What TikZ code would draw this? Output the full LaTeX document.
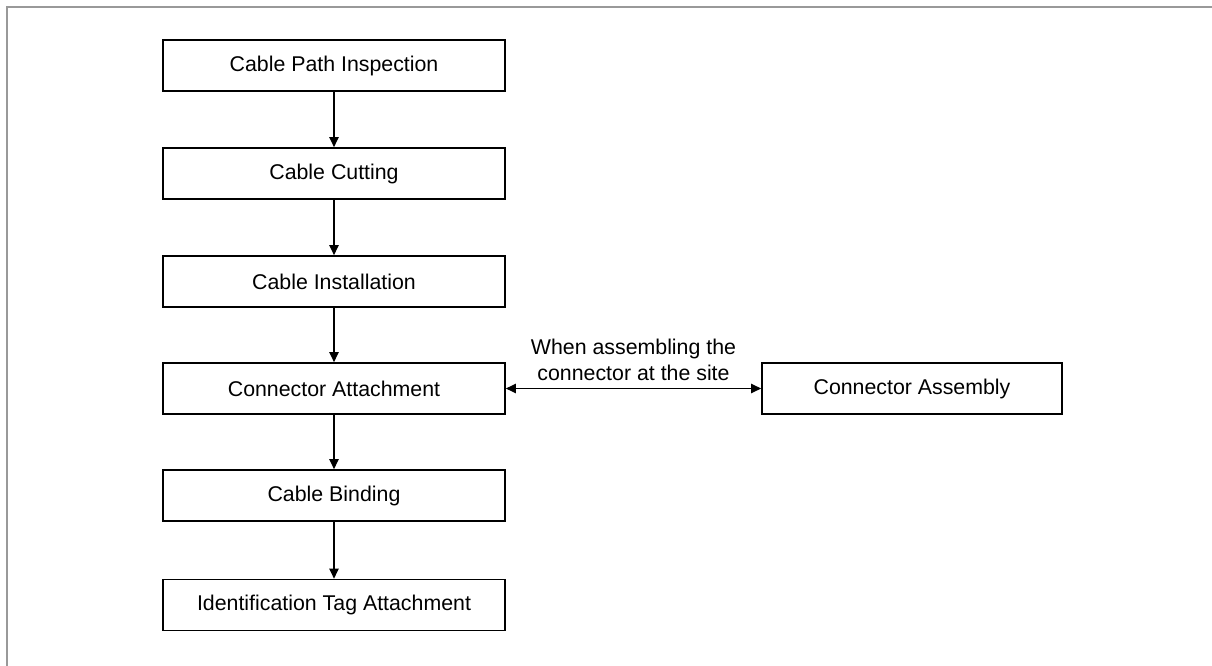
\documentclass[tikz,border=0pt]{standalone}
\usepackage{fontspec}
\setmainfont{Liberation Sans}
\usetikzlibrary{arrows.meta}
\begin{document}
\begin{tikzpicture}[x=0.75pt,y=-0.75pt,
  stepbox/.style={draw=black,line width=1.3pt,minimum width=256.5pt,minimum height=38.25pt,inner sep=0pt,font=\fontsize{16}{19.5}\selectfont},
  sidebox/.style={stepbox,minimum width=225pt},
  flow/.style={line width=1pt,-{Triangle[length=7.5pt,width=7pt]}},
  both/.style={line width=1pt,{Triangle[length=7.5pt,width=7pt]}-{Triangle[length=7.5pt,width=7pt]}},
  frame/.style={draw=black!40,line width=1.5pt}]
\useasboundingbox (0,0) rectangle (1212,666);
\draw[frame] (7,666) -- (7,7) -- (1212,7);
\node[stepbox] (n1) at (334,65.5) {Cable Path Inspection};
\node[stepbox] (n2) at (334,173.5) {Cable Cutting};
\node[stepbox] (n3) at (334,281.5) {Cable Installation};
\node[stepbox] (n4) at (334,388.5) {Connector Attachment};
\node[stepbox] (n5) at (334,495.5) {Cable Binding};
\node[stepbox] (n6) at (334,605) {Identification Tag Attachment};
\node[sidebox] (ca) at (912,388.5) {Connector Assembly};
\draw[flow] (n1) -- (n2);
\draw[flow] (n2) -- (n3);
\draw[flow] (n3) -- (n4);
\draw[flow] (n4) -- (n5);
\draw[flow] (n5) -- (n6);
\draw[both] (n4.east) -- node[above=2pt,align=center,font=\fontsize{16}{19.5}\selectfont] {When assembling the\\connector at the site} (ca.west);
\end{tikzpicture}
\end{document}
